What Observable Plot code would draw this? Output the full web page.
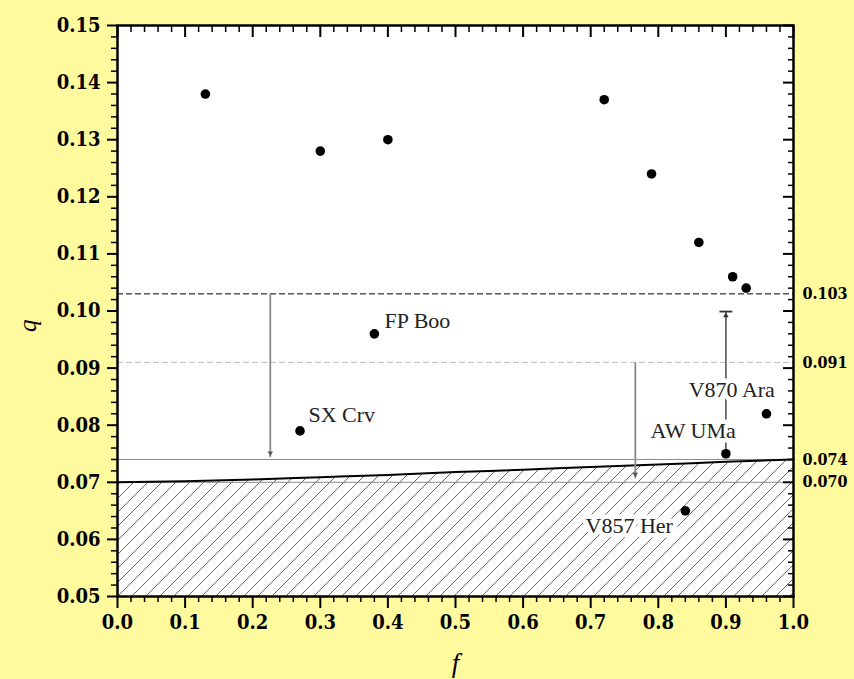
<!DOCTYPE html>
<html>
<head>
<meta charset="utf-8">
<script src="https://cdn.jsdelivr.net/npm/d3@7"></script>
<script src="https://cdn.jsdelivr.net/npm/@observablehq/plot@0.6"></script>
<style>
  html, body { margin: 0; padding: 0; background: #fffa9e; }
</style>
</head>
<body>
<div id="chart"></div>
<script>
// ---- data ----
const starF = [0.13, 0.30, 0.40, 0.72, 0.79, 0.86, 0.91, 0.93, 0.96, 0.38, 0.27, 0.90, 0.84];
const starQ = [0.138, 0.128, 0.130, 0.137, 0.124, 0.112, 0.106, 0.104, 0.082, 0.096, 0.079, 0.075, 0.065];

const labelNames = ["FP Boo", "SX Crv", "V870 Ara", "AW UMa", "V857 Her"];
const labelF = [0.395, 0.2825, 0.845, 0.7885, 0.6923];
const labelQ = [0.0971, 0.0806, 0.0850, 0.0777, 0.0612];

const refQ = [0.103, 0.091, 0.074, 0.070];
const refLabels = ["0.103", "0.091", "0.074", "0.070"];

const curveF = [0, 0.1, 0.2, 0.3, 0.4, 0.5, 0.6, 0.7, 0.8, 0.9, 1.0];
const curveQ = [0.0700, 0.0702, 0.0705, 0.0709, 0.0713, 0.0718, 0.0722, 0.0727, 0.0731, 0.0736, 0.0740];

// downward arrows: f, from q, to q
const downF = [0.226, 0.766];
const downFrom = [0.103, 0.091];
const downTo = [0.0744, 0.0707];
// upward limit arrow (AW UMa)
const upF = [0.90];
const upFrom = [0.0757];
const upTo = [0.0999];
const capHalfWidth = 0.0095;

const majorX = d3.range(0, 11).map(i => i / 10);
const minorX = d3.range(0, 51).filter(i => i % 5 !== 0).map(i => i / 50);
const majorY = d3.range(5, 16).map(i => i / 100);
const minorY = d3.range(25, 76).filter(i => i % 5 !== 0).map(i => i / 500);

// ---- tables built from the arrays ----
const stars = starF.map((f, i) => ({f, q: starQ[i]}));
const labels = labelNames.map((name, i) => ({name, f: labelF[i], q: labelQ[i]}));
const curve = curveF.map((f, i) => ({f, q: curveQ[i]}));
const downs = downF.map((f, i) => ({f, from: downFrom[i], to: downTo[i]}));
const ups = upF.map((f, i) => ({f, from: upFrom[i], to: upTo[i], x1: f - capHalfWidth, x2: f + capHalfWidth}));

const serifBold = "'DejaVu Serif Condensed', 'DejaVu Serif', serif";
const serifText = "'Liberation Serif', 'Times New Roman', serif";
const noText = () => "";

const svg = Plot.plot({
  width: 854,
  height: 679,
  marginLeft: 117,
  marginRight: 61,
  marginTop: 25,
  marginBottom: 83,
  x: {domain: [0, 1]},
  y: {domain: [0.05, 0.15]},
  style: {
    background: "#fffa9e",
    fontFamily: serifBold,
    fontSize: "20px",
    fontWeight: "bold",
    color: "black",
    overflow: "visible"
  },
  marks: [
    Plot.frame({fill: "white", stroke: "none"}),
    Plot.areaY(curve, {x: "f", y1: 0.05, y2: "q", fill: "url(#hatch)", curve: "monotone-x"}),
    Plot.ruleY([refQ[0]], {stroke: "black", strokeWidth: 1, strokeDasharray: "6,3"}),
    Plot.ruleY([refQ[1]], {stroke: "#bbbbbb", strokeWidth: 1, strokeDasharray: "6,3"}),
    Plot.ruleY([refQ[2], refQ[3]], {stroke: "#8a8a8a", strokeWidth: 1}),
    Plot.line(curve, {x: "f", y: "q", stroke: "black", strokeWidth: 2, curve: "monotone-x"}),
    // down arrows
    Plot.link(downs, {x1: "f", x2: "f", y1: "from", y2: "to", stroke: "#8a8a8a", strokeWidth: 1.8}),
    Plot.dot(downs, {x: "f", y: "to", symbol: "triangle2", rotate: 180, r: 2.6, fill: "#555", stroke: "none", dy: -4}),
    // upward limit arrow
    Plot.link(ups, {x1: "f", x2: "f", y1: "from", y2: "to", stroke: "#555", strokeWidth: 1.6}),
    Plot.link(ups, {x1: "x1", x2: "x2", y1: "to", y2: "to", stroke: "#333", strokeWidth: 1.8}),
    Plot.dot(ups, {x: "f", y: "to", symbol: "triangle2", r: 2.6, fill: "#333", stroke: "none", dy: 4}),
    // labels (white halo breaks the lines and hatching behind them)
    Plot.text(labels, {
      x: "f", y: "q", text: "name", textAnchor: "start", lineAnchor: "bottom",
      fontFamily: serifText, fontSize: 22, fontWeight: "normal",
      fill: "#222", stroke: "white", strokeWidth: 9, paintOrder: "stroke", strokeLinejoin: "round"
    }),
    // stars
    Plot.dot(stars, {x: "f", y: "q", r: 4.8, fill: "black", stroke: "none"}),
    // right-hand value labels
    Plot.text(refQ, {
      frameAnchor: "right", y: d => d, text: (d, i) => refLabels[i], dx: 9,
      textAnchor: "start", lineAnchor: "middle", fontSize: 16, fontWeight: "bold"
    }),
    Plot.frame({stroke: "black", strokeWidth: 2.5}),
    // axes
    Plot.axisX(majorX, {anchor: "bottom", tickSize: 12, tickPadding: 6, tickFormat: d3.format(".1f"), label: null, strokeWidth: 2}),
    Plot.axisX(minorX, {anchor: "bottom", tickSize: 6, tickFormat: noText, label: null, strokeWidth: 1.5}),
    Plot.axisX(majorX, {anchor: "top", tickSize: -11, tickFormat: noText, label: null, strokeWidth: 2}),
    Plot.axisX(minorX, {anchor: "top", tickSize: -6, tickFormat: noText, label: null, strokeWidth: 1.5}),
    Plot.axisY(majorY, {anchor: "left", tickSize: 10, tickPadding: 7, tickFormat: d3.format(".2f"), label: null, strokeWidth: 2}),
    Plot.axisY(minorY, {anchor: "left", tickSize: 6, tickFormat: noText, label: null, strokeWidth: 1.5}),
    Plot.axisY(majorY, {anchor: "right", tickSize: -11, tickFormat: noText, label: null, strokeWidth: 2}),
    Plot.axisY(minorY, {anchor: "right", tickSize: -6, tickFormat: noText, label: null, strokeWidth: 1.5}),
    // axis titles
    Plot.text(["q"], {frameAnchor: "left", dx: -90, dy: 21, rotate: -90, fontFamily: serifText, fontStyle: "italic", fontWeight: "normal", fontSize: 25}),
    Plot.text(["f"], {frameAnchor: "bottom", dy: 67, lineAnchor: "middle", fontFamily: serifText, fontStyle: "italic", fontWeight: "normal", fontSize: 27})
  ]
});

// hatch pattern for the forbidden region
const defs = d3.select(svg).insert("defs", ":first-child");
const pat = defs.append("pattern")
  .attr("id", "hatch")
  .attr("patternUnits", "userSpaceOnUse")
  .attr("width", 14)
  .attr("height", 14);
pat.append("path")
  .attr("d", "M-1,1 l2,-2 M0,14 l14,-14 M13,15 l2,-2")
  .attr("stroke", "#555")
  .attr("stroke-width", 0.9)
  .attr("fill", "none");

document.getElementById("chart").appendChild(svg);
</script>
</body>
</html>
